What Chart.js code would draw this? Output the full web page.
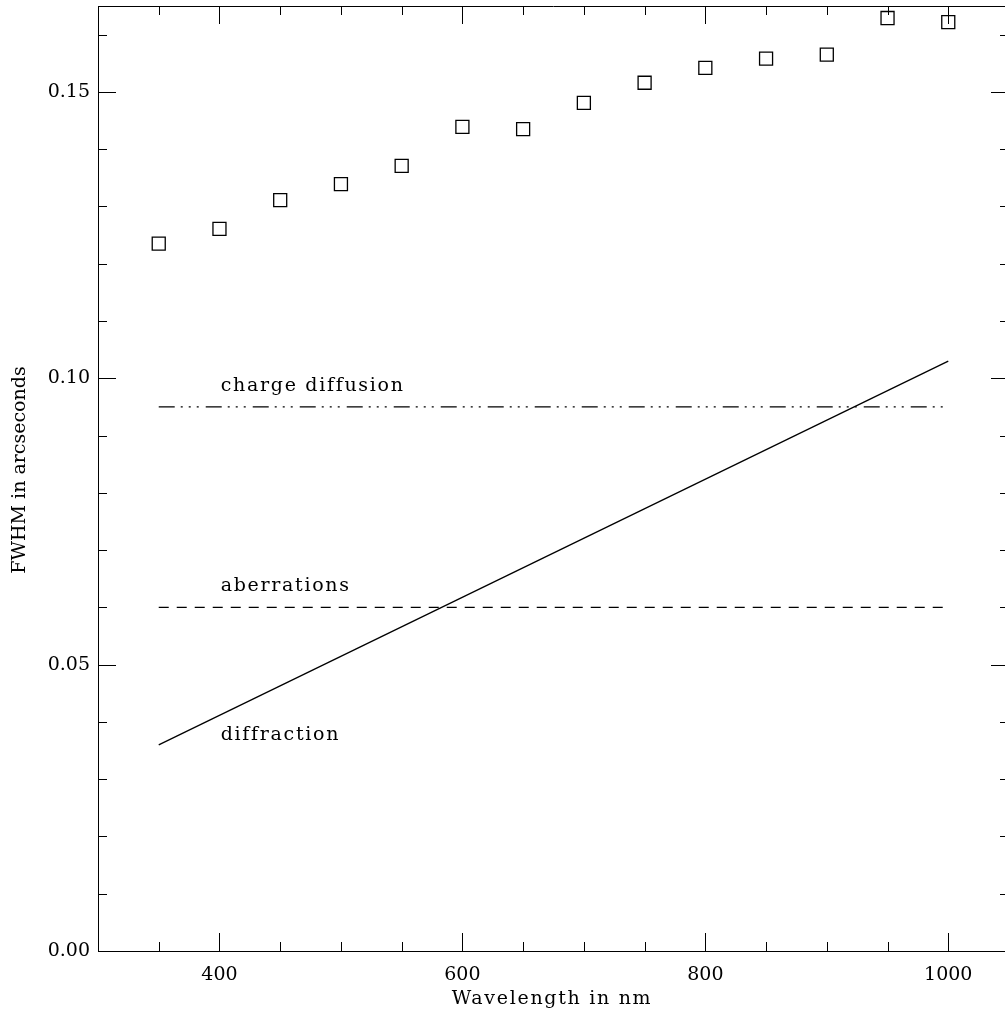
<!DOCTYPE html>
<html lang="en">
<head>
  <meta charset="UTF-8">
  <title>FWHM vs wavelength</title>
  <script src="https://cdn.jsdelivr.net/npm/chart.js"></script>
  <style>
    html, body { margin: 0; padding: 0; background: #fff; overflow: hidden; }
  </style>
</head>
<body>
  <canvas id="fwhmChart" width="1010" height="1019"></canvas>

  <script>
    // measured FWHM (squares)
    const wavelengths = [350, 400, 450, 500, 550, 600, 650, 700, 750, 800, 850, 900, 950, 1000];
    const measuredFwhm = [0.1235, 0.1261, 0.1311, 0.1339, 0.1371, 0.1439, 0.1435, 0.1481, 0.1516, 0.1542, 0.1558, 0.1565, 0.1629, 0.1622];

    // model contributions
    const lineWavelengths = [350, 1000];
    const chargeDiffusion = [0.095, 0.095];
    const aberrations = [0.060, 0.060];
    const diffraction = [0.036, 0.103];

    // axes
    const xMajorTicks = [400, 600, 800, 1000];
    const yMajorTicks = [0.00, 0.05, 0.10, 0.15];
    const xMinorStep = 50;
    const yMinorStep = 0.01;
    const xTitle = 'Wavelength in nm';
    const yTitle = 'FWHM in arcseconds';

    // text next to the curves, in data units
    const curveLabels = [
      { text: 'charge diffusion', x: 401, y: 0.0978 },
      { text: 'aberrations', x: 401, y: 0.0629 },
      { text: 'diffraction', x: 401, y: 0.0368 }
    ];

    const toPoints = (xs, ys) => xs.map((x, i) => ({ x: x, y: ys[i] }));
    const FONT = "'DejaVu Serif', serif";

    Chart.defaults.font.family = FONT;
    Chart.defaults.font.size = 19;
    Chart.defaults.color = '#000';

    const framePlugin = {
      id: 'frameAndTicks',
      afterDraw(chart) {
        const ctx = chart.ctx;
        const a = chart.chartArea;
        const xs = chart.scales.x, ys = chart.scales.y;
        ctx.save();
        ctx.strokeStyle = '#000';
        ctx.lineWidth = 1;
        ctx.beginPath();
        ctx.moveTo(a.left, a.top + 0.5);
        ctx.lineTo(a.right, a.top + 0.5);
        ctx.moveTo(a.right - 0.5, a.top);
        ctx.lineTo(a.right - 0.5, a.bottom);
        // x ticks, bottom and top, pointing in
        for (let v = xs.min; v <= xs.max + 0.001; v += xMinorStep) {
          const len = xMajorTicks.includes(v) ? 18 : 9;
          const px = Math.round(xs.getPixelForValue(v)) + 0.5;
          ctx.moveTo(px, a.bottom); ctx.lineTo(px, a.bottom - len);
          ctx.moveTo(px, a.top); ctx.lineTo(px, a.top + len);
        }
        // y ticks, left and right, pointing in
        const n = Math.round(ys.max / yMinorStep);
        for (let i = 0; i <= n; i++) {
          const v = i * yMinorStep;
          const major = yMajorTicks.some(t => Math.abs(t - v) < 1e-6);
          const len = major ? 18 : 9;
          const py = Math.round(ys.getPixelForValue(v)) + 0.5;
          ctx.moveTo(a.left, py); ctx.lineTo(a.left + len, py);
          ctx.moveTo(a.right, py); ctx.lineTo(a.right - len, py);
        }
        ctx.stroke();

        ctx.fillStyle = '#000';
        ctx.font = '19px ' + FONT;
        ctx.letterSpacing = '1.7px';
        ctx.textAlign = 'left';
        ctx.textBaseline = 'alphabetic';
        curveLabels.forEach(l => {
          ctx.fillText(l.text, xs.getPixelForValue(l.x), ys.getPixelForValue(l.y));
        });

        // axis titles
        ctx.textAlign = 'center';
        ctx.textBaseline = 'middle';
        ctx.fillText(xTitle, 552, 999);
        ctx.letterSpacing = '0px';
        ctx.translate(20, 470);
        ctx.rotate(-Math.PI / 2);
        ctx.fillText(yTitle, 0, 0);
        ctx.restore();
      }
    };

    new Chart(document.getElementById('fwhmChart'), {
      type: 'scatter',
      data: {
        datasets: [
          {
            label: 'measured',
            data: toPoints(wavelengths, measuredFwhm),
            pointStyle: 'rect',
            pointRadius: 9.2,
            pointBorderWidth: 1.3,
            borderColor: '#000',
            backgroundColor: 'rgba(0,0,0,0)',
            showLine: false
          },
          {
            label: 'charge diffusion',
            data: toPoints(lineWavelengths, chargeDiffusion),
            showLine: true,
            borderColor: '#000',
            borderWidth: 1.3,
            borderDash: [16, 6, 2, 6, 2, 6, 2, 7],
            pointRadius: 0
          },
          {
            label: 'aberrations',
            data: toPoints(lineWavelengths, aberrations),
            showLine: true,
            borderColor: '#000',
            borderWidth: 1.3,
            borderDash: [10, 8],
            pointRadius: 0
          },
          {
            label: 'diffraction',
            data: toPoints(lineWavelengths, diffraction),
            showLine: true,
            borderColor: '#000',
            borderWidth: 1.3,
            pointRadius: 0
          }
        ]
      },
      options: {
        responsive: false,
        animation: false,
        layout: { autoPadding: false, padding: { top: 6, right: 1, left: 0, bottom: 0 } },
        plugins: {
          legend: { display: false },
          tooltip: { enabled: false }
        },
        scales: {
          x: {
            type: 'linear',
            min: 300,
            max: 1050,
            afterBuildTicks: s => { s.ticks = xMajorTicks.map(v => ({ value: v })); },
            afterFit: s => {
              s.height = 68;
              s.paddingLeft = s.paddingRight = s.paddingTop = s.paddingBottom = 0;
            },
            grid: { drawOnChartArea: false, drawTicks: false },
            border: { display: true, color: '#000', width: 1 },
            ticks: { padding: 13, autoSkip: false, maxRotation: 0, callback: v => String(v) }
          },
          y: {
            type: 'linear',
            min: 0,
            max: 0.165,
            afterBuildTicks: s => { s.ticks = yMajorTicks.map(v => ({ value: v })); },
            afterFit: s => {
              s.width = 98;
              s.paddingLeft = s.paddingRight = s.paddingTop = s.paddingBottom = 0;
            },
            grid: { drawOnChartArea: false, drawTicks: false },
            border: { display: true, color: '#000', width: 1 },
            ticks: { padding: 8, callback: v => Number(v).toFixed(2) }
          }
        }
      },
      plugins: [framePlugin]
    });
  </script>
</body>
</html>
